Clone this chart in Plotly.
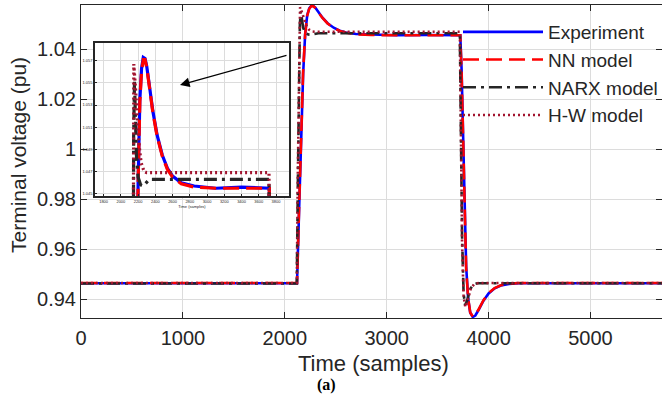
import plotly.graph_objects as go

# ---------------- data ----------------
t_exp = [0, 2120, 2140, 2160, 2180, 2200, 2220, 2240, 2260, 2280, 2300, 2330, 2370, 2420,
         2480, 2540, 2600, 2700, 2850, 3100, 3400, 3722, 3735, 3750, 3765, 3780, 3800,
         3820, 3845, 3870, 3900, 3950, 4000, 4060, 4120, 4200, 4300, 5702]
v_exp = [0.9463, 0.9463, 0.975, 1.005, 1.030, 1.046, 1.0535, 1.0563, 1.0573, 1.0572,
         1.0565, 1.0548, 1.0525, 1.0503, 1.0485, 1.0473, 1.0466, 1.0460, 1.0457, 1.0455,
         1.0456, 1.0455, 1.032, 1.005, 0.975, 0.953, 0.940, 0.9345, 0.9328, 0.9334,
         0.9355, 0.9393, 0.9422, 0.9443, 0.9454, 0.9460, 0.9463, 0.9463]

t_nn = [0, 2120, 2140, 2160, 2180, 2200, 2220, 2240, 2260, 2280, 2300, 2330, 2370, 2420,
        2480, 2540, 2600, 2700, 2850, 3100, 3400, 3722, 3735, 3750, 3765, 3780, 3800,
        3820, 3845, 3870, 3900, 3950, 4000, 4060, 4120, 4200, 4300, 5702]
v_nn = [0.9464, 0.9464, 0.976, 1.006, 1.031, 1.046, 1.0533, 1.0561, 1.0571, 1.0571,
        1.0564, 1.0547, 1.0524, 1.0502, 1.0484, 1.0472, 1.0465, 1.0459, 1.0456, 1.0455,
        1.0455, 1.0455, 1.031, 1.004, 0.974, 0.952, 0.940, 0.9346, 0.9330, 0.9336,
        0.9357, 0.9395, 0.9424, 0.9444, 0.9455, 0.9461, 0.9464, 0.9464]

t_narx = [0, 2118, 2128, 2138, 2148, 2158, 2168, 2180, 2200, 2230, 2260, 2290, 2330,
          3718, 3728, 3740, 3755, 3770, 3790, 3820, 3850, 3890, 5702]
v_narx = [0.9462, 0.9462, 0.985, 1.025, 1.050, 1.0551, 1.0520, 1.0485, 1.0465, 1.0458,
          1.0457, 1.0460, 1.0463, 1.0463, 1.010, 0.965, 0.942, 0.9376, 0.9395, 0.9440,
          0.9458, 0.9463, 0.9463]

t_hw = [0, 2118, 2128, 2140, 2150, 2170, 2190, 2210, 2235, 2270, 2300,
        3718, 3728, 3740, 3755, 3772, 3795, 3825, 3860, 3900, 5702]
v_hw = [0.9464, 0.9464, 0.990, 1.040, 1.0567, 1.0545, 1.0520, 1.0495, 1.0478, 1.0470,
        1.0469, 1.0469, 1.010, 0.962, 0.941, 0.9368, 0.9392, 0.9442, 0.9460, 0.9464, 0.9464]

series_names = ["Experiment", "NN model", "NARX model", "H-W model"]
x_ticks = [0, 1000, 2000, 3000, 4000, 5000]
y_ticks = [0.94, 0.96, 0.98, 1.00, 1.02, 1.04]
y_tick_text = ["0.94", "0.96", "0.98", "1", "1.02", "1.04"]

# ---------------- styling ----------------
FONT = "Arial, Liberation Sans, sans-serif"
AX = "#262626"
GRID = "#dcdcdc"
W, H = 662, 408
ML, MR, MT, MB = 81, 0, 5, 90
PW, PH = W - ML - MR, H - MT - MB

def px_x(p):
    return (p - ML) / PW

def px_y(p):
    return (H - MB - p) / PH

styles = [
    dict(color="#0000ff", dash="solid"),
    dict(color="#ff0000", dash="16px,7px"),
    dict(color="#262626", dash="13px,5px,3px,5px"),
    dict(color="#a2142f", dash="2px,3px"),
]
data = [(t_exp, v_exp), (t_nn, v_nn), (t_narx, v_narx), (t_hw, v_hw)]

fig = go.Figure()
for (t, v), name, st in zip(data, series_names, styles):
    fig.add_trace(go.Scatter(x=t, y=v, mode="lines", name=name,
                             line=dict(color=st["color"], dash=st["dash"], width=2.6),
                             xaxis="x", yaxis="y"))
for (t, v), name, st in zip(data, series_names, styles):
    fig.add_trace(go.Scatter(x=t, y=v, mode="lines", name=name, showlegend=False,
                             line=dict(color=st["color"], dash=st["dash"], width=3.2),
                             xaxis="x2", yaxis="y2"))

fig.update_layout(
    width=W, height=H,
    margin=dict(l=ML, r=MR, t=MT, b=MB, autoexpand=False),
    paper_bgcolor="white", plot_bgcolor="white",
    font=dict(family=FONT, color=AX),
    xaxis=dict(range=[0, 5702], tickvals=x_ticks, ticks="inside", ticklen=6,
               tickcolor=AX, showline=True, linecolor=AX, linewidth=1, mirror="ticks",
               showgrid=True, gridcolor=GRID, gridwidth=1, zeroline=False, automargin=False,
               tickfont=dict(size=20, family=FONT, color=AX), ticklabelstandoff=2),
    yaxis=dict(range=[0.9324, 1.0576], tickvals=y_ticks, ticktext=y_tick_text,
               ticks="inside", ticklen=6, tickcolor=AX, showline=True, linecolor=AX,
               linewidth=1, mirror="ticks", showgrid=True, gridcolor=GRID, gridwidth=1,
               zeroline=False, automargin=False, tickfont=dict(size=20, family=FONT, color=AX),
               ticklabelstandoff=0),
    xaxis2=dict(domain=[px_x(95), px_x(289)], anchor="y2", range=[1700, 3950],
                dtick=200, tick0=1800, ticks="inside", ticklen=2, tickcolor=AX,
                showline=True, linecolor=AX, linewidth=1.5, mirror=True, automargin=False,
                showgrid=True, gridcolor=GRID, zeroline=False,
                tickfont=dict(size=4, color=AX),
                title=dict(text="Time (samples)", font=dict(size=4, color=AX), standoff=1)),
    yaxis2=dict(domain=[px_y(196), px_y(43)], anchor="x2", range=[1.0448, 1.0586],
                dtick=0.002, tick0=1.045, tickformat=".3f", ticks="inside", ticklen=2,
                tickcolor=AX, showline=True, linecolor=AX, linewidth=1.5, mirror=True,
                showgrid=True, gridcolor=GRID, zeroline=False, automargin=False,
                tickfont=dict(size=4, color=AX)),
    legend=dict(x=px_x(458), y=px_y(13), xanchor="left", yanchor="top",
                bgcolor="rgba(0,0,0,0)", borderwidth=0, itemwidth=80,
                font=dict(size=19, family=FONT, color=AX)),
    showlegend=True,
)

fig.add_annotation(xref="paper", yref="paper", x=px_x(373), y=px_y(363),
                   text="Time (samples)", showarrow=False,
                   font=dict(size=22, family=FONT, color=AX), xanchor="center", yanchor="middle")
fig.add_annotation(xref="paper", yref="paper", x=px_x(18), y=px_y(155),
                   text="Terminal voltage (pu)", showarrow=False, textangle=-90,
                   font=dict(size=21, family=FONT, color=AX), xanchor="center", yanchor="middle")
fig.add_annotation(xref="paper", yref="paper", x=px_x(326), y=px_y(385),
                   text="<b>(a)</b>", showarrow=False,
                   font=dict(size=16, family="Times New Roman, Liberation Serif, serif", color="black"),
                   xanchor="center", yanchor="middle")
fig.add_annotation(xref="paper", yref="paper", x=px_x(180), y=px_y(85),
                   ax=108, ay=-30, text="", showarrow=True, arrowhead=2,
                   arrowsize=1.6, arrowwidth=1.2, arrowcolor="black")

fig.write_html("out.html", config={"displayModeBar": False},
               post_script="document.body.style.margin='0px';")
